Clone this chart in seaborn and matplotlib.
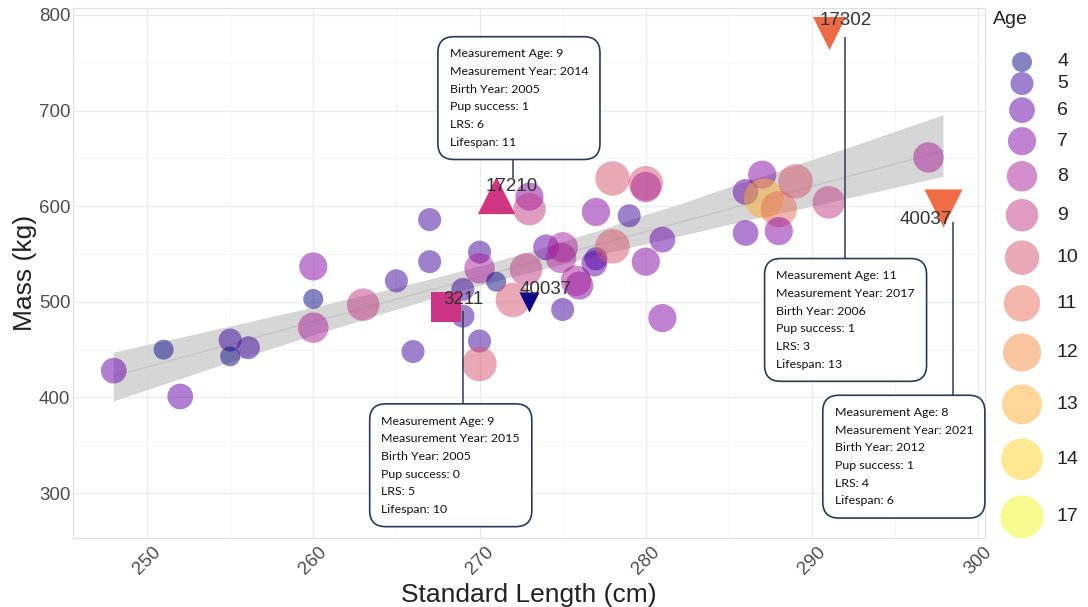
import numpy as np
import pandas as pd
import matplotlib
matplotlib.use("Agg")
import matplotlib.pyplot as plt
import seaborn as sns
from matplotlib.ticker import MultipleLocator

# ---------------- data ----------------
length = [248.0, 251.0, 252.0, 255.0, 255.0, 256.1, 260.0, 260.0, 260.0, 263.0,
          265.0, 266.0, 267.0, 267.0, 269.0, 269.0, 270.0, 270.0, 270.0, 270.0,
          271.0, 272.0, 272.8, 273.0, 273.0, 274.0, 275.0, 274.9, 275.0, 276.0,
          275.8, 277.0, 276.9, 277.0, 278.0, 278.0, 279.0, 280.0, 280.0, 280.0,
          281.0, 281.0, 286.0, 286.0, 287.0, 287.1, 288.0, 288.0, 289.0, 291.0,
          297.0]
mass = [428, 450, 401, 460, 443, 452, 537, 503, 473, 497,
        522, 448, 586, 542, 513, 485, 552, 535, 459, 435,
        521, 502, 534, 610, 597, 557, 557, 546, 492, 517,
        522, 545, 540, 594, 558, 629, 590, 624, 620, 542,
        565, 483, 615, 572, 633, 608, 597, 574, 626, 604,
        651]
age = [6, 4, 6, 5, 4, 5, 7, 4, 8, 9,
       5, 5, 5, 5, 5, 5, 5, 8, 5, 10,
       4, 10, 9, 7, 9, 6, 8, 8, 5, 7,
       8, 5, 6, 7, 10, 10, 5, 10, 8, 7,
       6, 7, 6, 6, 7, 13, 11, 7, 10, 9,
       8]

hl_id = ["17210", "3211", "40037", "17302", "40037"]
hl_length = [271.0, 268.0, 273.0, 291.0, 297.9]
hl_mass = [612, 495, 500, 781, 598]

# callout info (for 17210, 3211, 17302, 40037-right)
meas_age = [9, 9, 11, 8]
meas_year = [2014, 2015, 2017, 2021]
birth_year = [2005, 2005, 2006, 2012]
pup_success = [1, 0, 1, 1]
lrs = [6, 5, 3, 4]
lifespan = [11, 10, 13, 6]

legend_ages = [4, 5, 6, 7, 8, 9, 10, 11, 12, 13, 14, 17]

# ---------------- styles ----------------
hl_marker = ["^", "s", "v", "v", "v"]
hl_color = ["#cf3580", "#cc3585", "#0d0887", "#ee6a45", "#ef6c45"]
hl_size = [720, 470, 210, 565, 750]
hl_label_offset = [(11.5, 5.8), (12.2, 5.0), (11.5, 8.6), (12.2, 9.0), (-13.0, -8.0)]

box_for = [0, 1, 3, 4]
box_pos = [(268.2, 765), (264.1, 381), (287.85, 533), (291.35, 390)]
line_x = [272.0, 269.0, 292.0, 298.45]
line_y = [(630, 680), (490, 380), (777, 520), (584, 380)]

SANS = ["Liberation Sans", "DejaVu Sans"]
W, H = 1088, 607

df = pd.DataFrame({"length": length, "mass": mass, "age": age})
df_all = pd.DataFrame({"length": length + hl_length, "mass": mass + hl_mass})

sns.set_style("white")
plt.rcParams["font.family"] = SANS

fig = plt.figure(figsize=(W / 100, H / 100), dpi=100)
ax = fig.add_axes([73 / W, 1 - 538 / H, (985 - 73) / W, (538 - 8) / H])

sns.regplot(data=df_all, x="length", y="mass", scatter=False, ax=ax, color="black",
            line_kws=dict(color="#c4c4c4", lw=1.0))
for coll in ax.collections:
    coll.set_facecolor("#d2d2d2")
    coll.set_alpha(0.9)
    coll.set_edgecolor("none")
    coll.set_zorder(1.5)

smin, smax = 207, 960
cmap = plt.get_cmap("plasma")
n = len(legend_ages)
pal = {a: cmap(i / (n - 1)) for i, a in enumerate(legend_ages)}
size_map = {a: smin + i / (n - 1) * (smax - smin) for i, a in enumerate(legend_ages)}

sns.scatterplot(data=df, x="length", y="mass", hue="age", size="age",
                palette=pal, sizes=size_map, alpha=0.5, linewidth=0,
                legend=False, ax=ax, zorder=3)

for i in range(len(hl_id)):
    sns.scatterplot(x=[hl_length[i]], y=[hl_mass[i]], marker=hl_marker[i],
                    color=hl_color[i], s=hl_size[i], linewidth=0, ax=ax, zorder=4)
    ax.annotate(hl_id[i], xy=(hl_length[i], hl_mass[i]),
                xytext=hl_label_offset[i], textcoords="offset points",
                ha="center", va="center", fontsize=13.5, color="#333333",
                zorder=7)

for k, idx in enumerate(box_for):
    ax.plot([line_x[k], line_x[k]], list(line_y[k]), color="#2c3a57", lw=1.1,
            zorder=5, solid_capstyle="butt")
    txt = (f"Measurement Age: {meas_age[k]}\n"
           f"Measurement Year: {meas_year[k]}\n"
           f"Birth Year: {birth_year[k]}\n"
           f"Pup success: {pup_success[k]}\n"
           f"LRS: {lrs[k]}\n"
           f"Lifespan: {lifespan[k]}")
    ax.text(box_pos[k][0], box_pos[k][1], txt, ha="left", va="top",
            fontsize=8.9, family=["Lato", "DejaVu Sans"], color="#111111",
            linespacing=1.74, zorder=6,
            bbox=dict(boxstyle="round,pad=0.95,rounding_size=1.3",
                      facecolor="white", edgecolor="#2c3a57", lw=1.2))

ax.set_xlim(245.55, 300.4)
ax.set_ylim(253, 807.3)
ax.xaxis.set_major_locator(MultipleLocator(10))
ax.xaxis.set_minor_locator(MultipleLocator(5))
ax.yaxis.set_major_locator(MultipleLocator(100))
ax.yaxis.set_minor_locator(MultipleLocator(50))
ax.grid(which="major", color="#ebebeb", lw=0.9)
ax.grid(which="minor", color="#f5f5f5", lw=0.6)
ax.set_axisbelow(True)
ax.tick_params(which="both", length=0)
ax.tick_params(axis="y", labelsize=13.5, labelcolor="#4d4d4d", pad=2)
ax.tick_params(axis="x", labelsize=13.5, labelcolor="#4d4d4d", pad=4)
for lab in ax.get_xticklabels():
    lab.set_rotation(45)
    lab.set_ha("center")
    lab.set_va("top")
for sp in ax.spines.values():
    sp.set_color("#dedede")
    sp.set_linewidth(0.8)
ax.set_xlabel("Standard Length (cm)", fontsize=19, color="#222222", labelpad=4)
ax.set_ylabel("Mass (kg)", fontsize=19, color="#222222", labelpad=1)

# ---------------- legend (manual, figure pixel coords) ----------------
lax = fig.add_axes([0, 0, 1, 1], zorder=10)
lax.set_xlim(0, W)
lax.set_ylim(H, 0)
lax.axis("off")
sizes = [size_map[a] for a in legend_ages]
diam = [np.sqrt(s) * 100 / 72 for s in sizes]
ys = [62.0]
for j in range(1, n):
    avg = (diam[j - 1] + diam[j]) / 2
    ys.append(ys[-1] + 1.74 * avg - 15.9)
lax.scatter([1022] * n, ys, s=sizes, c=[pal[a] for a in legend_ages],
            alpha=0.5, linewidth=0)
for a, y in zip(legend_ages, ys):
    lax.text(1057, y, str(a), ha="left", va="center", fontsize=14, color="#222222")
lax.text(993, 20, "Age", ha="left", va="center", fontsize=14, color="#222222")

fig.savefig("out.png", dpi=100, facecolor="white")
